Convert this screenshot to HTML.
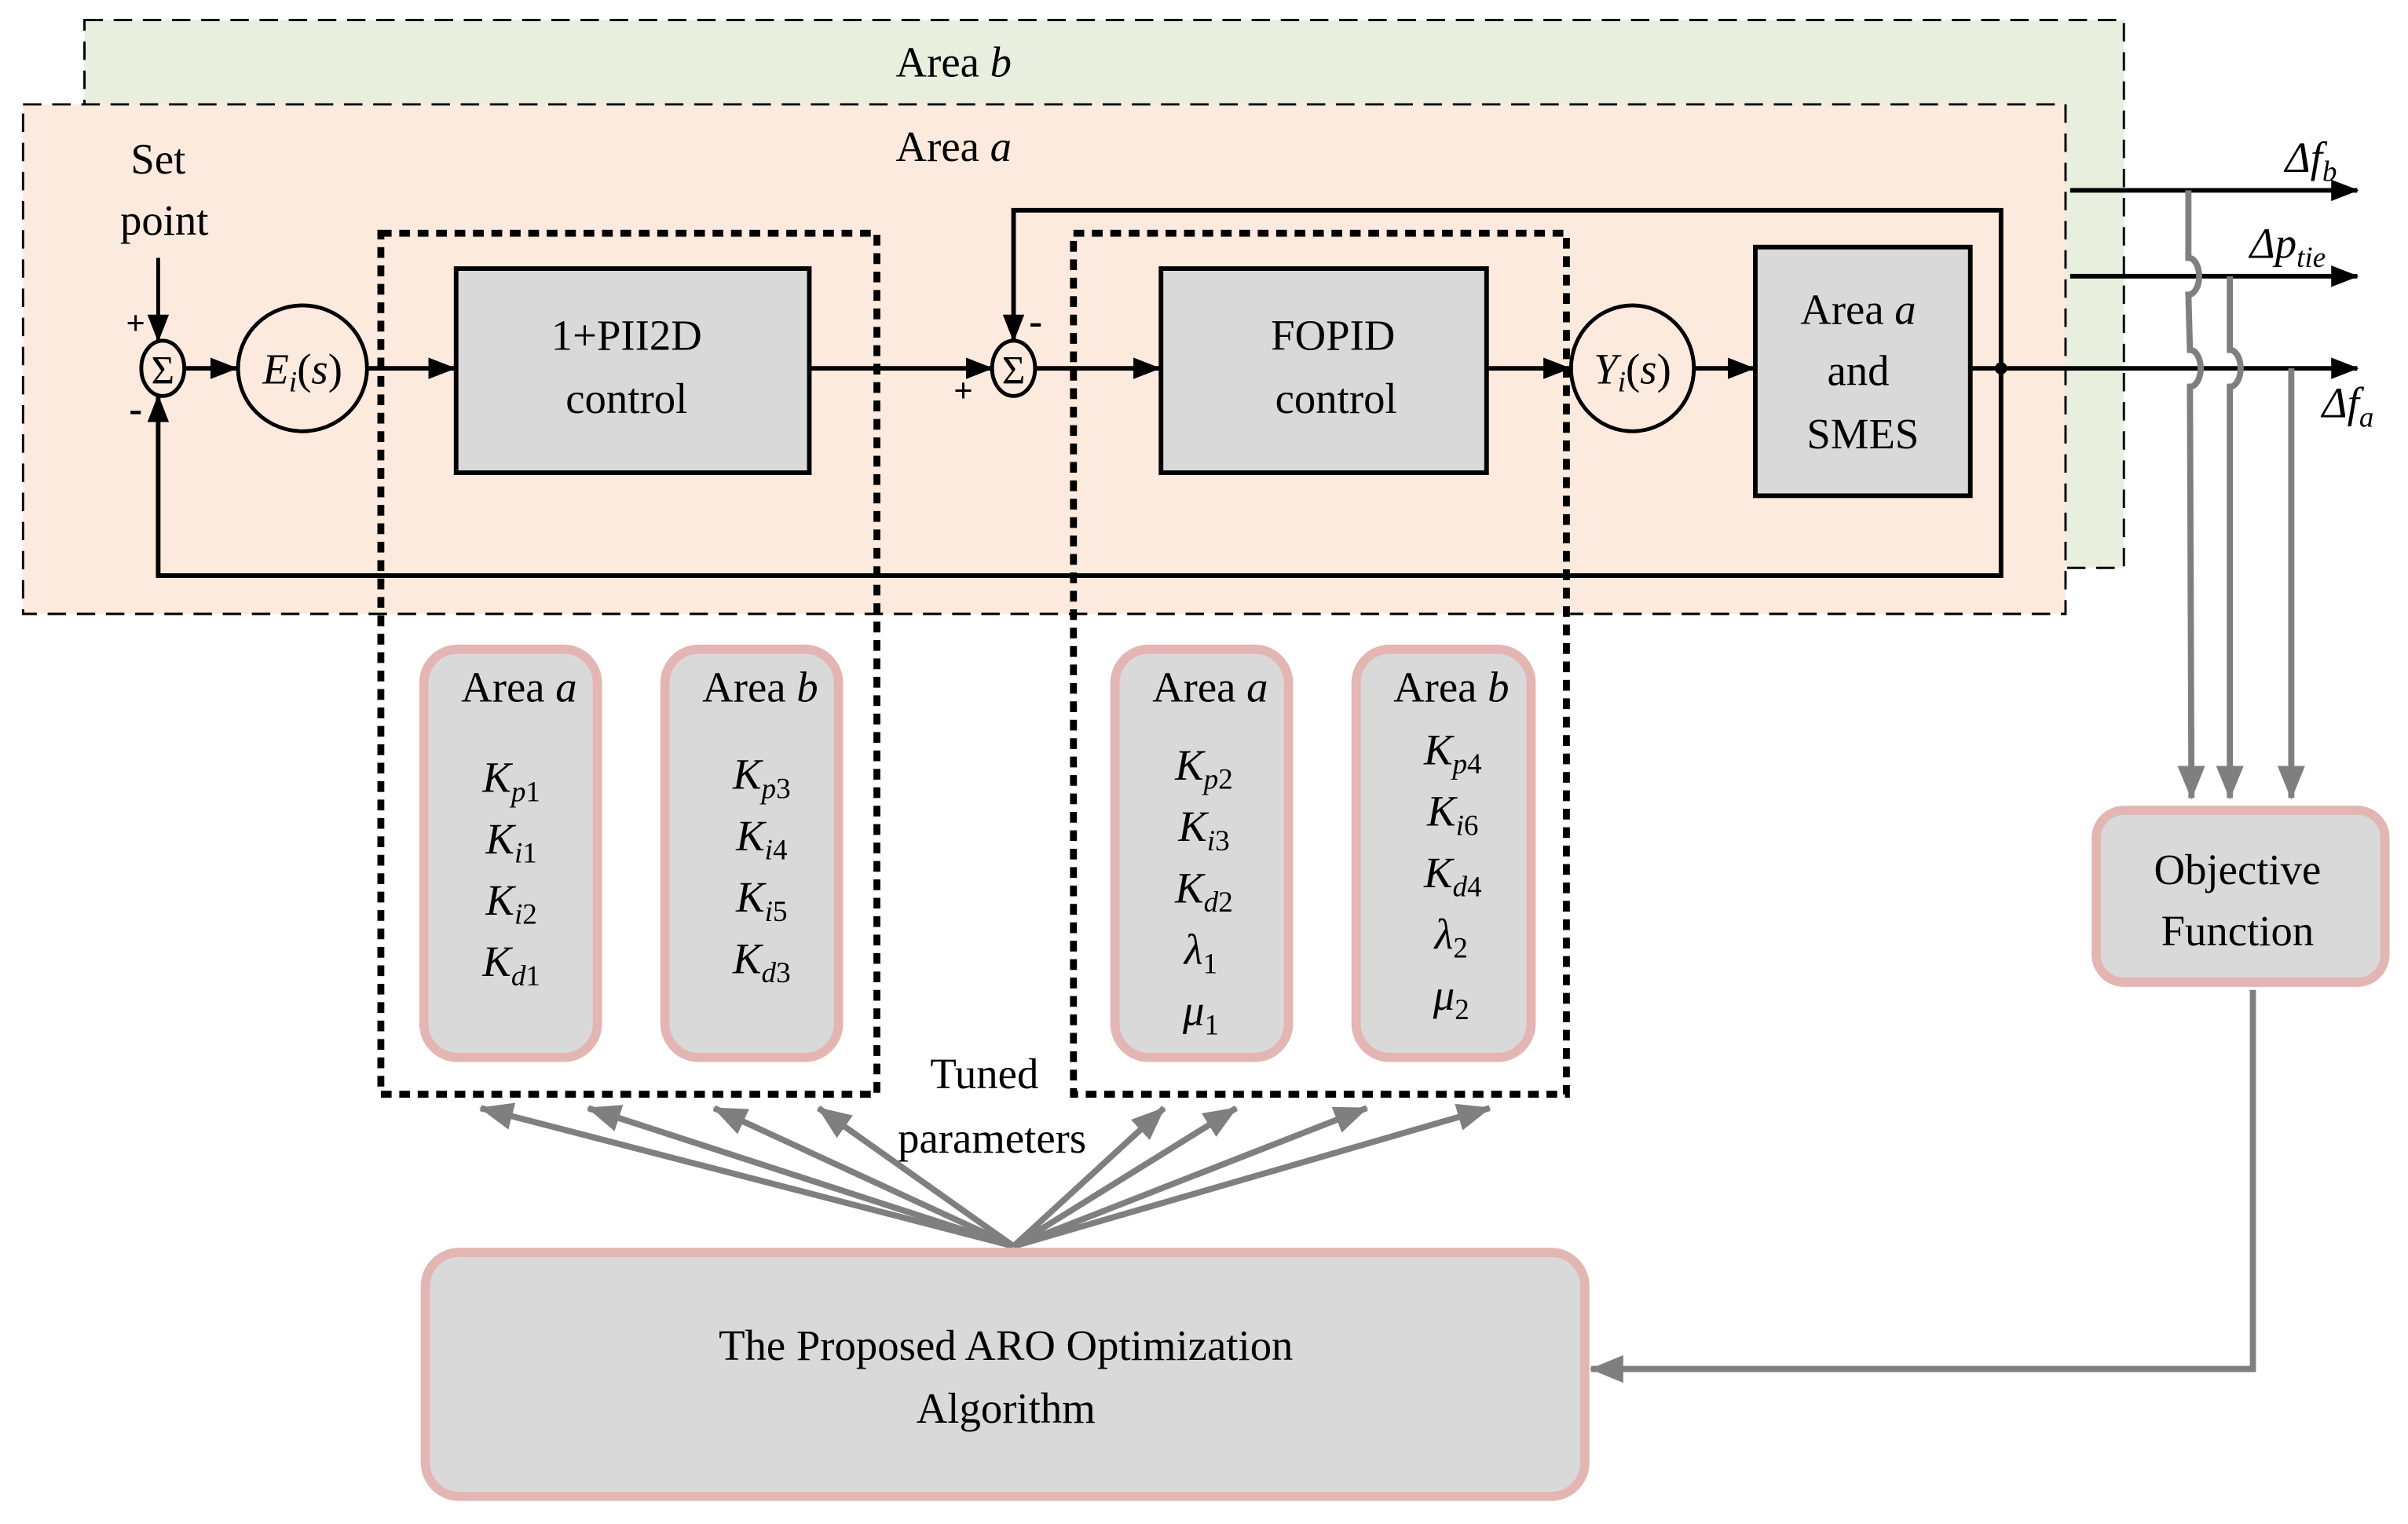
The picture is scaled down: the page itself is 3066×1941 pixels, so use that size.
<!DOCTYPE html>
<html><head><meta charset="utf-8"><style>
html,body{margin:0;padding:0;background:#fff}
svg{display:block}
svg text{font-family:'Liberation Serif','Times New Roman',Times,serif;fill:#000}
.i{font-style:italic}
</style></head><body>
<svg width="3066" height="1941" viewBox="0 0 1568 993" preserveAspectRatio="none" xmlns="http://www.w3.org/2000/svg" font-family="'Liberation Serif', 'Times New Roman', serif">
<defs>
<marker id="ab" markerWidth="18" markerHeight="14" refX="17" refY="7" orient="auto" markerUnits="userSpaceOnUse" viewBox="0 0 18 14"><path d="M0,0 L18,7 L0,14z" fill="#000"/></marker>
<marker id="ag" markerWidth="22" markerHeight="18" refX="21" refY="9" orient="auto" markerUnits="userSpaceOnUse" viewBox="0 0 22 18"><path d="M0,0 L22,9 L0,18z" fill="#7f7f7f"/></marker>
</defs>
<rect x="55" y="13" width="1328" height="357" fill="#e9efdf" stroke="#000" stroke-width="1.5" stroke-dasharray="12,7"/>
<rect x="15" y="68" width="1330" height="332" fill="#fbeadd" stroke="#000" stroke-width="1.5" stroke-dasharray="12,7"/>
<text x="621" y="50" font-size="28" text-anchor="middle">Area <tspan class="i">b</tspan></text>
<text x="621" y="105" font-size="28" text-anchor="middle">Area <tspan class="i">a</tspan></text>
<text x="103" y="113" font-size="28" text-anchor="middle">Set</text>
<text x="107" y="153" font-size="28" text-anchor="middle">point</text>

<g stroke="#000" stroke-width="3" fill="none">
<line x1="103" y1="168" x2="103" y2="222" marker-end="url(#ab)" stroke-width="2.5"/>
<line x1="120" y1="240" x2="154" y2="240" marker-end="url(#ab)"/>
<line x1="240" y1="240" x2="296" y2="240" marker-end="url(#ab)"/>
<line x1="527" y1="240" x2="646" y2="240" marker-end="url(#ab)"/>
<line x1="674" y1="240" x2="755" y2="240" marker-end="url(#ab)"/>
<line x1="968" y1="240" x2="1022" y2="240" marker-end="url(#ab)"/>
<line x1="1104" y1="240" x2="1142" y2="240" marker-end="url(#ab)"/>
<line x1="1283" y1="240" x2="1535" y2="240" marker-end="url(#ab)"/>
<polyline points="1303,240 1303,375 103,375 103,258" marker-end="url(#ab)"/>
<polyline points="1303,240 1303,137 660,137 660,222" marker-end="url(#ab)"/>
<line x1="1348" y1="124" x2="1535" y2="124" marker-end="url(#ab)"/>
<line x1="1348" y1="180" x2="1535" y2="180" marker-end="url(#ab)"/>
</g>
<circle cx="1303" cy="240" r="4" fill="#000"/>
<ellipse cx="106" cy="240" rx="14" ry="18" fill="#fbeadd" stroke="#000" stroke-width="2.5"/>
<text x="106" y="250" font-size="26" text-anchor="middle">Σ</text>
<ellipse cx="660" cy="240" rx="14" ry="18" fill="#fbeadd" stroke="#000" stroke-width="2.5"/>
<text x="660" y="250" font-size="26" text-anchor="middle">Σ</text>
<text x="82" y="218" font-size="22" font-weight="bold">+</text>
<text x="84" y="275" font-size="26" font-weight="bold">-</text>
<text x="621" y="262" font-size="22" font-weight="bold">+</text>
<text x="670" y="218" font-size="26" font-weight="bold">-</text>
<ellipse cx="197" cy="240" rx="42" ry="41" fill="#fbeadd" stroke="#000" stroke-width="2.5"/>
<text x="197" y="250" font-size="28" text-anchor="middle"><tspan class="i">E</tspan><tspan class="i" font-size="19" dy="5">i</tspan><tspan dy="-5">(</tspan><tspan class="i">s</tspan>)</text>
<ellipse cx="1063" cy="240" rx="40" ry="41" fill="#fbeadd" stroke="#000" stroke-width="2.5"/>
<text x="1063" y="250" font-size="28" text-anchor="middle"><tspan class="i">Y</tspan><tspan class="i" font-size="19" dy="5">i</tspan><tspan dy="-5">(</tspan><tspan class="i">s</tspan>)</text>
<rect x="297" y="175" width="230" height="133" fill="#d9d9d9" stroke="#000" stroke-width="3"/>
<text x="408" y="228" font-size="28" text-anchor="middle">1+PII2D</text>
<text x="408" y="269" font-size="28" text-anchor="middle">control</text>
<rect x="756" y="175" width="212" height="133" fill="#d9d9d9" stroke="#000" stroke-width="3"/>
<text x="868" y="228" font-size="28" text-anchor="middle">FOPID</text>
<text x="870" y="269" font-size="28" text-anchor="middle">control</text>
<rect x="1143" y="161" width="140" height="162" fill="#d9d9d9" stroke="#000" stroke-width="3"/>
<text x="1210" y="211" font-size="28" text-anchor="middle">Area <tspan class="i">a</tspan></text>
<text x="1210" y="251" font-size="28" text-anchor="middle">and</text>
<text x="1213" y="292" font-size="28" text-anchor="middle">SMES</text>
<rect x="248" y="152" width="323" height="561" fill="none" stroke="#000" stroke-width="4.5" stroke-dasharray="7,5"/>
<rect x="699" y="152" width="321" height="561" fill="none" stroke="#000" stroke-width="4.5" stroke-dasharray="7,5"/>
<text x="1488" y="112" font-size="28" class="i">Δf<tspan font-size="19" dy="6">b</tspan></text>
<text x="1465" y="168" font-size="28" class="i">Δp<tspan font-size="19" dy="6">tie</tspan></text>
<text x="1512" y="272" font-size="28" class="i">Δf<tspan font-size="19" dy="6">a</tspan></text>
<g stroke="#7f7f7f" stroke-width="4" fill="none">
<path d="M1425,124 L1425,168 A7,12 0 0 1 1425,192 L1426,228 A7,12 0 0 1 1426,252 L1427,520" marker-end="url(#ag)"/>
<path d="M1452,180 L1452,228 A7,12 0 0 1 1452,252 L1452,520" marker-end="url(#ag)"/>
<path d="M1492,240 L1492,520" marker-end="url(#ag)"/>
<polyline points="1467,645 1467,892 1036,892" marker-end="url(#ag)"/>
</g>
<rect x="1365" y="528" width="188" height="112" rx="18" fill="#d9d9d9" stroke="#e3b5b3" stroke-width="6"/>
<text x="1457" y="576" font-size="28" text-anchor="middle">Objective</text>
<text x="1457" y="616" font-size="28" text-anchor="middle">Function</text>
<g fill="#d9d9d9" stroke="#e3b5b3" stroke-width="6">
<rect x="276" y="423" width="113" height="266" rx="22"/>
<rect x="433" y="423" width="113" height="266" rx="22"/>
<rect x="726" y="423" width="113" height="266" rx="22"/>
<rect x="883" y="423" width="114" height="266" rx="22"/>
</g>
<g font-size="28" text-anchor="middle">
<text x="338" y="457">Area <tspan class="i">a</tspan></text>
<text x="495" y="457">Area <tspan class="i">b</tspan></text>
<text x="788" y="457">Area <tspan class="i">a</tspan></text>
<text x="945" y="457">Area <tspan class="i">b</tspan></text>
</g>
<g font-size="28" class="i" text-anchor="middle">
<text x="333" y="516">K<tspan font-size="19" dy="6">p</tspan><tspan font-size="19" font-style="normal">1</tspan></text>
<text x="333" y="556">K<tspan font-size="19" dy="6">i</tspan><tspan font-size="19" font-style="normal">1</tspan></text>
<text x="333" y="596">K<tspan font-size="19" dy="6">i</tspan><tspan font-size="19" font-style="normal">2</tspan></text>
<text x="333" y="636">K<tspan font-size="19" dy="6">d</tspan><tspan font-size="19" font-style="normal">1</tspan></text>
<text x="496" y="514">K<tspan font-size="19" dy="6">p</tspan><tspan font-size="19" font-style="normal">3</tspan></text>
<text x="496" y="554">K<tspan font-size="19" dy="6">i</tspan><tspan font-size="19" font-style="normal">4</tspan></text>
<text x="496" y="594">K<tspan font-size="19" dy="6">i</tspan><tspan font-size="19" font-style="normal">5</tspan></text>
<text x="496" y="634">K<tspan font-size="19" dy="6">d</tspan><tspan font-size="19" font-style="normal">3</tspan></text>
<text x="784" y="508">K<tspan font-size="19" dy="6">p</tspan><tspan font-size="19" font-style="normal">2</tspan></text>
<text x="784" y="548">K<tspan font-size="19" dy="6">i</tspan><tspan font-size="19" font-style="normal">3</tspan></text>
<text x="784" y="588">K<tspan font-size="19" dy="6">d</tspan><tspan font-size="19" font-style="normal">2</tspan></text>
<text x="782" y="628">λ<tspan font-size="19" dy="6" font-style="normal">1</tspan></text>
<text x="782" y="668">μ<tspan font-size="19" dy="6" font-style="normal">1</tspan></text>
<text x="946" y="498">K<tspan font-size="19" dy="6">p</tspan><tspan font-size="19" font-style="normal">4</tspan></text>
<text x="946" y="538">K<tspan font-size="19" dy="6">i</tspan><tspan font-size="19" font-style="normal">6</tspan></text>
<text x="946" y="578">K<tspan font-size="19" dy="6">d</tspan><tspan font-size="19" font-style="normal">4</tspan></text>
<text x="945" y="618">λ<tspan font-size="19" dy="6" font-style="normal">2</tspan></text>
<text x="945" y="658">μ<tspan font-size="19" dy="6" font-style="normal">2</tspan></text>
</g>
<text x="641" y="709" font-size="28" text-anchor="middle">Tuned</text>
<text x="646" y="751" font-size="28" text-anchor="middle">parameters</text>
<g stroke="#7f7f7f" stroke-width="4" fill="none">
<line x1="660" y1="812" x2="313" y2="722" marker-end="url(#ag)"/>
<line x1="660" y1="812" x2="383" y2="722" marker-end="url(#ag)"/>
<line x1="660" y1="812" x2="465" y2="722" marker-end="url(#ag)"/>
<line x1="660" y1="812" x2="533" y2="722" marker-end="url(#ag)"/>
<line x1="660" y1="812" x2="758" y2="722" marker-end="url(#ag)"/>
<line x1="660" y1="812" x2="805" y2="722" marker-end="url(#ag)"/>
<line x1="660" y1="812" x2="890" y2="722" marker-end="url(#ag)"/>
<line x1="660" y1="812" x2="970" y2="722" marker-end="url(#ag)"/>
</g>
<rect x="277" y="816" width="755" height="159" rx="22" fill="#d9d9d9" stroke="#e3b5b3" stroke-width="6"/>
<text x="655" y="886" font-size="28" text-anchor="middle">The Proposed ARO Optimization</text>
<text x="655" y="927" font-size="28" text-anchor="middle">Algorithm</text>
</svg>
</body></html>
